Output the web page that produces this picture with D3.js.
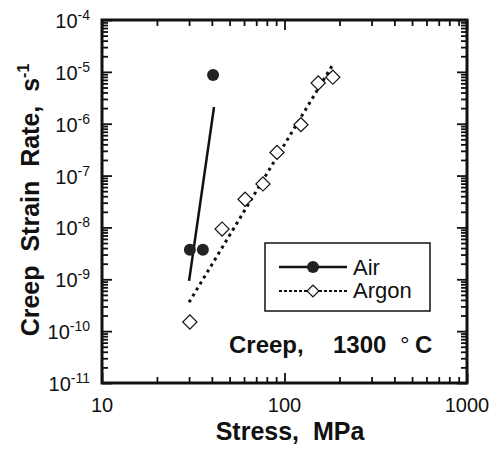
<!DOCTYPE html>
<html>
<head>
<meta charset="utf-8">
<script src="https://cdn.jsdelivr.net/npm/d3@7"></script>
<style>
body { margin: 0; background: #fff; }
svg { font-family: "Liberation Sans", Arial, sans-serif; }
</style>
</head>
<body>
<svg id="chart" width="493" height="452"></svg>
<script>
// values (stress in MPa, rate in 1/s)
var airStress = [40.6, 30.3, 35.7];
var airRate = [8.7e-6, 3.7e-9, 3.7e-9];
var airFitStress = [30.0, 41.1];
var airFitRate = [9.3e-10, 2.1e-6];

var argonStress = [30.3, 45.5, 60.8, 76.2, 91, 123, 153, 184];
var argonRate = [1.5e-10, 9.3e-9, 3.5e-8, 6.9e-8, 2.8e-7, 9.6e-7, 6.1e-6, 7.9e-6];
var argonFitStress = [30.0, 182];
var argonFitRate = [3.6e-10, 1.3e-5];

var xTickLabels = ["10", "100", "1000"];
var xMajor = [10, 100, 1000];
var yExponents = [-4, -5, -6, -7, -8, -9, -10, -11];

var margin = {left: 102, right: 26, top: 20, bottom: 69};
var W = 493, H = 452;

var svg = d3.select("#chart");

var x = d3.scaleLog().domain([10, 1000]).range([margin.left, W - margin.right]);
var y = d3.scaleLog().domain([1e-11, 1e-4]).range([H - margin.bottom, margin.top]);

// minor ticks 2..9 of every decade
function minors(lo, hi) {
    var out = [];
    for (var e = lo; e < hi; e++) {
        for (var k = 2; k <= 9; k++) out.push(k * Math.pow(10, e));
    }
    return out;
}
var xMinor = minors(1, 3);
var yMinor = minors(-11, -4);
var yMajor = yExponents.map(function(e){ return Math.pow(10, e); });

var x0 = x.range()[0], x1 = x.range()[1];
var y0 = y.range()[0], y1 = y.range()[1];

function drawAxis(axis, tr) {
    var g = svg.append("g").attr("transform", tr).call(axis);
    g.select(".domain").remove();
    g.selectAll("line").attr("stroke", "#111").attr("stroke-width", 1.8);
    g.selectAll("text").remove();
}

// ticks point inward on all four sides
drawAxis(d3.axisBottom(x).tickValues(xMinor).tickSize(-6).tickFormat(""), "translate(0," + y0 + ")");
drawAxis(d3.axisBottom(x).tickValues(xMajor).tickSize(-10).tickFormat(""), "translate(0," + y0 + ")");
drawAxis(d3.axisTop(x).tickValues(xMinor).tickSize(-6).tickFormat(""), "translate(0," + y1 + ")");
drawAxis(d3.axisTop(x).tickValues(xMajor).tickSize(-10).tickFormat(""), "translate(0," + y1 + ")");
drawAxis(d3.axisLeft(y).tickValues(yMinor).tickSize(-6).tickFormat(""), "translate(" + x0 + ",0)");
drawAxis(d3.axisLeft(y).tickValues(yMajor).tickSize(-10).tickFormat(""), "translate(" + x0 + ",0)");
drawAxis(d3.axisRight(y).tickValues(yMinor).tickSize(-6).tickFormat(""), "translate(" + x1 + ",0)");
drawAxis(d3.axisRight(y).tickValues(yMajor).tickSize(-10).tickFormat(""), "translate(" + x1 + ",0)");

// frame
svg.append("rect")
    .attr("x", x0).attr("y", y1)
    .attr("width", x1 - x0).attr("height", y0 - y1)
    .attr("fill", "none").attr("stroke", "#111").attr("stroke-width", 3);

// x tick labels
svg.selectAll(".xlab").data(xMajor).enter().append("text")
    .attr("class", "xlab")
    .attr("x", function(d){ return x(d); })
    .attr("y", y0 + 29)
    .attr("text-anchor", "middle")
    .attr("font-size", 20)
    .attr("fill", "#111")
    .text(function(d, i){ return xTickLabels[i]; });

// y tick labels: 10 with superscript exponent
var ylab = svg.selectAll(".ylab").data(yExponents).enter().append("text")
    .attr("class", "ylab")
    .attr("x", 90)
    .attr("y", function(d){ return y(Math.pow(10, d)) + 8; })
    .attr("text-anchor", "end")
    .attr("fill", "#111")
    .attr("font-size", 20);
ylab.append("tspan").text("10");
ylab.append("tspan").attr("dy", -8).attr("font-size", 14).text(function(d){ return "-" + Math.abs(d); });

// axis titles
svg.append("text")
    .attr("x", 290).attr("y", 440)
    .attr("text-anchor", "middle")
    .attr("font-size", 25).attr("font-weight", "bold").attr("fill", "#111")
    .style("white-space", "pre")
    .text("Stress,  MPa");

var yt = svg.append("text")
    .attr("transform", "translate(39,200) rotate(-90)")
    .attr("text-anchor", "middle")
    .attr("font-size", 25).attr("font-weight", "bold").attr("fill", "#111")
    .style("white-space", "pre");
yt.append("tspan").text("Creep  Strain  Rate,  s");
yt.append("tspan").attr("dy", -10).attr("font-size", 16).text("-1");

// fitted lines
var line = d3.line()
    .x(function(d){ return x(d[0]); })
    .y(function(d){ return y(d[1]); });

svg.append("path")
    .datum(d3.zip(airFitStress, airFitRate))
    .attr("d", line)
    .attr("fill", "none").attr("stroke", "#111").attr("stroke-width", 2.5);

svg.append("path")
    .datum(d3.zip(argonFitStress, argonFitRate))
    .attr("d", line)
    .attr("fill", "none").attr("stroke", "#111").attr("stroke-width", 3)
    .attr("stroke-dasharray", "3,4");

// markers
var diamond = d3.symbol().type(d3.symbolSquare).size(100);

svg.selectAll(".argon").data(d3.zip(argonStress, argonRate)).enter().append("path")
    .attr("class", "argon")
    .attr("d", diamond)
    .attr("transform", function(d){ return "translate(" + x(d[0]) + "," + y(d[1]) + ") rotate(45)"; })
    .attr("fill", "#fff").attr("stroke", "#111").attr("stroke-width", 1.2);

svg.selectAll(".air").data(d3.zip(airStress, airRate)).enter().append("circle")
    .attr("class", "air")
    .attr("cx", function(d){ return x(d[0]); })
    .attr("cy", function(d){ return y(d[1]); })
    .attr("r", 6)
    .attr("fill", "#222");

// legend
var lg = svg.append("g");
lg.append("rect")
    .attr("x", 265).attr("y", 243).attr("width", 165).attr("height", 68)
    .attr("fill", "#fff").attr("stroke", "#111").attr("stroke-width", 1.5);
lg.append("line").attr("x1", 279).attr("x2", 347).attr("y1", 267).attr("y2", 267)
    .attr("stroke", "#111").attr("stroke-width", 2.5);
lg.append("circle").attr("cx", 313).attr("cy", 267).attr("r", 6).attr("fill", "#222");
lg.append("line").attr("x1", 279).attr("x2", 347).attr("y1", 291).attr("y2", 291)
    .attr("stroke", "#111").attr("stroke-width", 2).attr("stroke-dasharray", "3,2");
lg.append("path").attr("d", d3.symbol().type(d3.symbolSquare).size(70))
    .attr("transform", "translate(313,291) rotate(45)")
    .attr("fill", "#fff").attr("stroke", "#111").attr("stroke-width", 1.2);
lg.append("text").attr("x", 353).attr("y", 275).attr("font-size", 22).attr("fill", "#111").text("Air");
lg.append("text").attr("x", 353).attr("y", 298).attr("font-size", 22).attr("fill", "#111").text("Argon");

// condition note
var note = svg.append("g").attr("font-size", 24).attr("font-weight", "bold").attr("fill", "#111");
note.append("text").attr("x", 229).attr("y", 353).text("Creep,");
note.append("text").attr("x", 333).attr("y", 353).text("1300");
note.append("text").attr("x", 400).attr("y", 353).attr("font-weight", "normal").text("°");
note.append("text").attr("x", 415).attr("y", 353).text("C");
</script>
</body>
</html>
